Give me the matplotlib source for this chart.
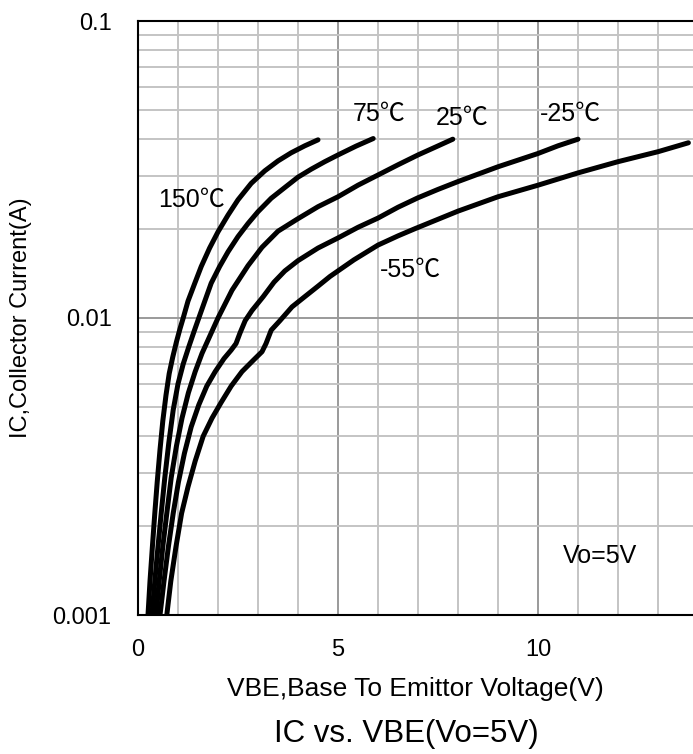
import numpy as np
import matplotlib
matplotlib.use("Agg")
import matplotlib.pyplot as plt
from matplotlib.ticker import MultipleLocator, LogLocator, NullFormatter, FixedLocator

plt.rcParams['font.family'] = ['Liberation Sans', 'Noto Sans CJK SC', 'DejaVu Sans']

# IC vs VBE curves (x in V, y in A)
vbe_150 = [0.25, 0.30, 0.36, 0.42, 0.48, 0.55, 0.62, 0.70, 0.78, 0.87, 0.96, 1.05, 1.13, 1.25,
           1.42, 1.58, 1.79, 2.00, 2.25, 2.50, 2.83, 3.17, 3.50, 3.83, 4.17, 4.50]
ic_150 = [0.001, 0.0013, 0.0017, 0.0022, 0.0028, 0.0036, 0.0045, 0.0055, 0.0065, 0.0074, 0.0083,
          0.0092, 0.0100, 0.0114, 0.0131, 0.0149, 0.0172, 0.0195, 0.0222, 0.0250, 0.0284, 0.0313,
          0.0338, 0.0360, 0.0380, 0.0398]

vbe_75 = [0.35, 0.42, 0.50, 0.58, 0.67, 0.77, 0.88, 1.00, 1.13, 1.27, 1.40, 1.52, 1.67, 1.83,
          2.04, 2.25, 2.50, 2.75, 3.00, 3.33, 3.67, 4.00, 4.33, 4.67, 5.00, 5.45, 5.88]
ic_75 = [0.001, 0.0013, 0.0017, 0.0022, 0.0029, 0.0038, 0.0049, 0.0060, 0.0070, 0.0080, 0.0090,
         0.0100, 0.0114, 0.0131, 0.0149, 0.0167, 0.0188, 0.0208, 0.0228, 0.0253, 0.0275, 0.0298,
         0.0317, 0.0336, 0.0354, 0.0379, 0.0402]

vbe_25 = [0.45, 0.53, 0.62, 0.72, 0.83, 0.96, 1.10, 1.26, 1.43, 1.60, 1.78, 2.00, 2.35, 2.75,
          3.10, 3.50, 4.00, 4.50, 5.00, 5.50, 6.00, 6.50, 7.00, 7.45, 7.87]
ic_25 = [0.001, 0.0013, 0.0017, 0.0022, 0.0029, 0.0037, 0.0046, 0.0056, 0.0066, 0.0076, 0.0086,
         0.010, 0.0124, 0.015, 0.0173, 0.0196, 0.0216, 0.0237, 0.0256, 0.0280, 0.0303, 0.0328,
         0.0354, 0.0377, 0.040]

vbe_m25 = [0.55, 0.65, 0.76, 0.88, 1.01, 1.16, 1.33, 1.52, 1.72, 1.93, 2.15, 2.33, 2.45, 2.55,
           2.68, 2.85, 3.13, 3.40, 3.67, 4.00, 4.50, 5.00, 5.50, 6.00, 6.50, 7.00, 7.50, 8.00,
           9.00, 10.00, 10.50, 11.00]
ic_m25 = [0.001, 0.0013, 0.0017, 0.0022, 0.0028, 0.0035, 0.0043, 0.0051, 0.0059, 0.0066, 0.0073,
          0.0078, 0.0082, 0.0089, 0.0098, 0.0106, 0.0118, 0.0132, 0.0144, 0.0156, 0.0172, 0.0186,
          0.0202, 0.0217, 0.0236, 0.0254, 0.0271, 0.0288, 0.0323, 0.0358, 0.0380, 0.040]

vbe_m55 = [0.72, 0.82, 0.95, 1.09, 1.25, 1.43, 1.63, 1.85, 2.08, 2.33, 2.60, 2.88, 3.10, 3.20,
           3.33, 3.55, 3.85, 4.17, 4.50, 4.80, 5.40, 6.00, 6.50, 6.93, 8.00, 9.00, 10.00, 11.00,
           12.00, 13.00, 13.76]
ic_m55 = [0.001, 0.0013, 0.0017, 0.0022, 0.0027, 0.0033, 0.0040, 0.0046, 0.0052, 0.0059, 0.0066,
          0.0072, 0.0077, 0.0082, 0.0091, 0.0098, 0.0109, 0.0118, 0.0128, 0.0138, 0.0157, 0.0176,
          0.0189, 0.020, 0.0229, 0.0256, 0.028, 0.0308, 0.0336, 0.0363, 0.0389]

curves = [(vbe_150, ic_150), (vbe_75, ic_75), (vbe_25, ic_25), (vbe_m25, ic_m25), (vbe_m55, ic_m55)]

# curve labels: (text, x, y)
curve_labels = [("150℃", 1.33, 0.0249), ("75℃", 6.03, 0.0488), ("25℃", 8.11, 0.0471),
                ("-25℃", 10.80, 0.0488), ("-55℃", 6.81, 0.01448)]

fig = plt.figure(figsize=(6.93, 7.54), dpi=100)
ax = fig.add_axes([138 / 693, 1 - 615 / 754, 1 - 138 / 693, (615 - 21) / 754])

for vbe, ic in curves:
    ax.plot(vbe, ic, color='black', lw=3.6, solid_capstyle='round', solid_joinstyle='round', zorder=3)

for txt, x, y in curve_labels:
    ax.text(x, y, txt, fontsize=18, ha='center', va='center', zorder=4)
ax.text(11.55, 0.00158, "Vo=5V", fontsize=18, ha='center', va='center')

ax.set_yscale('log')
ax.set_xlim(0, 13.875)
ax.set_ylim(0.001, 0.1)

ax.xaxis.set_major_locator(FixedLocator([0, 5, 10]))
ax.xaxis.set_minor_locator(MultipleLocator(1))
ax.yaxis.set_major_locator(FixedLocator([0.001, 0.01, 0.1]))
ax.yaxis.set_minor_locator(LogLocator(base=10, subs=np.arange(2, 10)))
ax.yaxis.set_minor_formatter(NullFormatter())
ax.set_yticklabels(['0.001', '0.01', '0.1'])
ax.set_xticklabels(['0', '5', '10'])

ax.grid(which='minor', color='#c4c4c4', lw=1.4)
ax.grid(which='major', color='#9a9a9a', lw=1.4)
ax.set_axisbelow(True)

ax.tick_params(which='both', length=0)
ax.tick_params(axis='y', labelsize=17, pad=19)
ax.tick_params(axis='x', labelsize=17, pad=17)

for side in ['left', 'bottom', 'top']:
    ax.spines[side].set_color('black')
    ax.spines[side].set_linewidth(1.5)
ax.spines['right'].set_visible(False)

ax.set_xlabel("VBE,Base To Emittor Voltage(V)", fontsize=19, labelpad=12)
ax.set_ylabel("IC,Collector Current(A)", fontsize=17, labelpad=15)
fig.text(406 / 693, 1 - 734 / 754, "IC vs. VBE(Vo=5V)", fontsize=22.5, ha='center', va='center')

fig.savefig("out.png", dpi=100)
